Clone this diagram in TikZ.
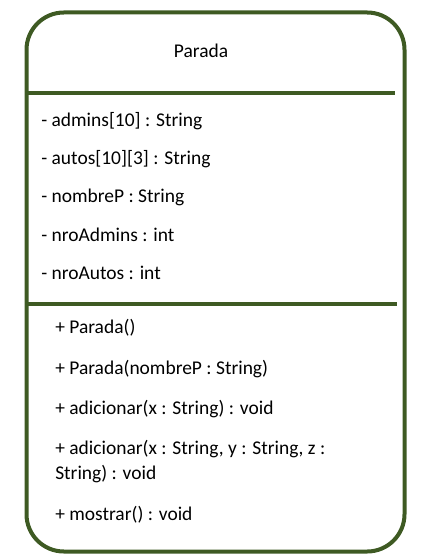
\documentclass[tikz,border=0pt]{standalone}
\usepackage{fontspec}
\setmainfont{Carlito}
\definecolor{umlgreen}{RGB}{62,90,35}
\begin{document}
\begin{tikzpicture}[x=0.75pt,y=-0.75pt,
  txt/.style={anchor=west,inner sep=0pt,font=\fontsize{14.6pt}{17pt}\selectfont},
  border/.style={draw=umlgreen,line width=3pt}]
\useasboundingbox (0,0) rectangle (430,559);
\draw[border,rounded corners=28pt] (26.5,12.5) rectangle (404.5,551.5);
\coordinate (s1l) at (26.5,93); \coordinate (s1r) at (395,93);
\coordinate (s2l) at (26.5,304); \coordinate (s2r) at (397,304);
\draw[border] (s1l) -- (s1r);
\draw[border] (s2l) -- (s2r);
\node[txt,anchor=center] (title) at (201,51) {Parada};
\node[txt] (a1) at (41,121) {- admins[10] : String};
\node[txt] (a2) at (41,159) {- autos[10][3] : String};
\node[txt] (a3) at (41,197) {- nombreP : String};
\node[txt] (a4) at (41,235) {- nroAdmins : int};
\node[txt] (a5) at (41,273) {- nroAutos : int};
\node[txt] (m1) at (55,328) {+ Parada()};
\node[txt] (m2) at (55,369) {+ Parada(nombreP : String)};
\node[txt] (m3) at (55,409) {+ adicionar(x : String) : void};
\node[txt] (m4) at (55,449) {+ adicionar(x : String, y : String, z :};
\node[txt] (m4b) at (55,474) {String) : void};
\node[txt] (m5) at (55,515) {+ mostrar() : void};
\end{tikzpicture}
\end{document}
